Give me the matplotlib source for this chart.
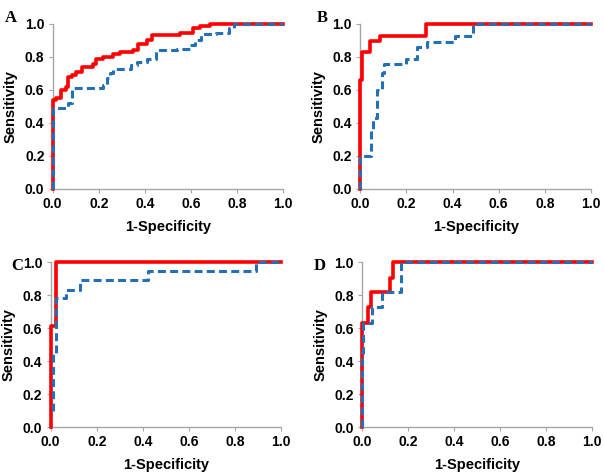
import matplotlib
matplotlib.use("Agg")
import matplotlib.pyplot as plt

# ROC step points (1-specificity, sensitivity)
a_red_x = [0, 0, 0.013, 0.035, 0.056, 0.066, 0.085, 0.10, 0.128, 0.176, 0.186, 0.22, 0.26, 0.29, 0.35, 0.37, 0.41, 0.43, 0.554, 0.609, 0.64, 0.68, 1.0]
a_red_y = [0, 0.54, 0.55, 0.60, 0.62, 0.68, 0.69, 0.71, 0.74, 0.76, 0.79, 0.80, 0.82, 0.83, 0.84, 0.88, 0.90, 0.935, 0.945, 0.975, 0.985, 1.0, 1.0]
a_blue_x = [0, 0, 0.068, 0.082, 0.22, 0.234, 0.25, 0.263, 0.34, 0.364, 0.41, 0.446, 0.54, 0.597, 0.619, 0.641, 0.71, 0.763, 0.785, 1.0]
a_blue_y = [0, 0.49, 0.52, 0.61, 0.63, 0.67, 0.70, 0.725, 0.75, 0.77, 0.79, 0.84, 0.85, 0.875, 0.905, 0.94, 0.945, 0.975, 1.0, 1.0]

b_red_x = [0, 0, 0.006, 0.042, 0.085, 0.283, 1.0]
b_red_y = [0, 0.66, 0.83, 0.895, 0.93, 1.0, 1.0]
b_blue_x = [0, 0, 0.046, 0.056, 0.071, 0.092, 0.104, 0.20, 0.244, 0.287, 0.41, 0.49, 1.0]
b_blue_y = [0, 0.20, 0.36, 0.43, 0.60, 0.70, 0.76, 0.79, 0.86, 0.89, 0.93, 1.0, 1.0]

c_red_x = [0, 0, 0.022, 1.0]
c_red_y = [0, 0.61, 1.0, 1.0]
c_blue_x = [0.012, 0.012, 0.023, 0.065, 0.127, 0.421, 0.891, 1.0]
c_blue_y = [0.10, 0.44, 0.78, 0.83, 0.89, 0.945, 1.0, 1.0]

d_red_x = [0, 0, 0.027, 0.039, 0.122, 0.136, 1.0]
d_red_y = [0, 0.63, 0.73, 0.82, 0.905, 1.0, 1.0]
d_blue_x = [0, 0, 0.006, 0.042, 0.088, 0.17, 1.0]
d_blue_y = [0, 0.45, 0.63, 0.725, 0.82, 1.0, 1.0]

panels = [
    ("A", [0.0873, 0.5996, 0.3818, 0.3496], (a_red_x, a_red_y), (a_blue_x, a_blue_y), (0.008, 0.978)),
    ("B", [0.5965, 0.5996, 0.3820, 0.3496], (b_red_x, b_red_y), (b_blue_x, b_blue_y), (0.524, 0.978)),
    ("C", [0.0839, 0.0953, 0.3813, 0.3496], (c_red_x, c_red_y), (c_blue_x, c_blue_y), (0.018, 0.453)),
    ("D", [0.5993, 0.0953, 0.3813, 0.3496], (d_red_x, d_red_y), (d_blue_x, d_blue_y), (0.520, 0.453)),
]

ticks = [0.0, 0.2, 0.4, 0.6, 0.8, 1.0]
red = "#FF0000"
blue = "#2470B8"
gray = "#A6A6A6"

fig = plt.figure(figsize=(6.04, 4.72), dpi=100)
plt.rcParams["font.family"] = "Liberation Sans"

for letter, rect, (rx, ry), (bx, by), lpos in panels:
    ax = fig.add_axes(rect)
    ax.step(rx, ry, where="post", color=red, linewidth=2.6, clip_on=False, zorder=3)
    ax.step(bx, by, where="post", color=blue, linewidth=2.2, linestyle=(0, (2.6, 1.4)),
            clip_on=False, zorder=4)
    ax.set_xlim(0, 1)
    ax.set_ylim(0, 1)
    ax.set_xticks(ticks)
    ax.set_yticks(ticks)
    ax.set_xticklabels([f"{t:.1f}" for t in ticks], fontweight="bold", fontsize=10)
    ax.set_yticklabels([f"{t:.1f}" for t in ticks], fontweight="bold", fontsize=10)
    for s in ["top", "right"]:
        ax.spines[s].set_visible(False)
    for s in ["left", "bottom"]:
        ax.spines[s].set_color(gray)
        ax.spines[s].set_linewidth(1.0)
    ax.tick_params(axis="both", direction="out", length=3, width=0.8, color=gray, pad=3)
    ax.set_xlabel("1-Specificity", fontweight="bold", fontsize=10.5, labelpad=6.5)
    ax.set_ylabel("Sensitivity", fontweight="bold", fontsize=10.5, labelpad=5)
    fig.text(lpos[0], lpos[1], letter, fontfamily="Liberation Serif", fontweight="bold",
             fontsize=12, va="top", ha="left")

fig.savefig("out.png", dpi=100)
